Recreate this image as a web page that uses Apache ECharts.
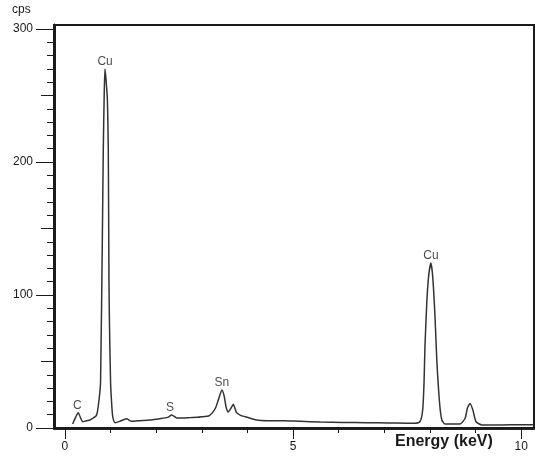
<!DOCTYPE html>
<html>
<head>
<meta charset="utf-8">
<script src="https://cdn.jsdelivr.net/npm/echarts@6/dist/echarts.min.js"></script>
<style>
    html, body { margin: 0; padding: 0; background: #fff; }
    #chart { width: 535px; height: 456px; }
</style>
</head>
<body>
<div id="chart"></div>
<script>
// spectrum: energy (keV) and counts (cps)
const energy = [0.17, 0.22, 0.29, 0.35, 0.39, 0.47, 0.55, 0.62, 0.68, 0.71, 0.75, 0.78, 0.82, 0.84, 0.86, 0.877, 0.90, 0.93, 0.95, 0.965, 0.975, 1.0, 1.03, 1.05, 1.1, 1.2, 1.35, 1.46, 1.6, 1.86, 2.08, 2.25, 2.34, 2.45, 2.6, 2.74, 2.9, 3.03, 3.15, 3.22, 3.3, 3.36, 3.44, 3.49, 3.53, 3.58, 3.64, 3.69, 3.76, 3.85, 3.95, 4.2, 4.45, 4.8, 5.15, 5.6, 6.1, 6.6, 7.1, 7.63, 7.78, 7.84, 7.87, 7.89, 7.93, 7.97, 8.02, 8.06, 8.11, 8.15, 8.21, 8.26, 8.33, 8.5, 8.66, 8.77, 8.82, 8.88, 8.94, 9.01, 9.14, 9.5, 10.0, 10.28];
const cps = [3, 7, 11.5, 7, 4.7, 5.5, 6, 7.5, 9, 12, 22, 34, 144, 209, 250, 270, 262, 247, 209, 109, 80, 34, 15, 8, 4, 5, 7, 5, 5.5, 6, 7, 8, 9.8, 7.5, 7.5, 7.8, 8, 8.5, 9, 11, 15, 21, 28.6, 24, 16, 12, 15, 17.8, 11.5, 9.5, 8.5, 6, 5.5, 5.5, 5, 4.5, 4.2, 4, 3.8, 3.5, 4.7, 13.5, 34, 61, 94, 114, 124, 114, 84, 51, 19, 6, 3, 3, 3, 7.3, 14.8, 18.5, 13.5, 4.7, 2.3, 2.2, 2.5, 2.5];

// peak labels
const peakNames = ["C", "Cu", "S", "Sn", "Cu"];
const peakEnergy = [0.27, 0.88, 2.3, 3.44, 8.02];
const peakCps = [11.5, 270, 9.8, 28.6, 124];

// ticks
const xMajor = [0, 5, 10];
const xMinor = [1, 2, 3, 4, 6, 7, 8, 9];
const yMajor = [0, 100, 200, 300];
const yMid = [50, 150, 250];
const yMinor = [10, 20, 30, 40, 60, 70, 80, 90, 110, 120, 130, 140, 160, 170, 180, 190, 210, 220, 230, 240, 260, 270, 280, 290];

const FONT = "Liberation Sans";
const INK = "#1a1a1a";

const chart = echarts.init(document.getElementById("chart"));

function yAx(ticks, len, labels) {
    return {
        type: "value",
        position: "left",
        offset: 0,
        min: 0,
        max: 303,
        splitLine: { show: false },
        axisLine: { show: true, onZero: false, lineStyle: { color: INK, width: 2.5 } },
        axisTick: { show: true, customValues: ticks, length: len, lineStyle: { color: INK, width: 1 } },
        axisLabel: labels
            ? { show: true, customValues: ticks, margin: 21, fontSize: 12, color: INK, fontFamily: FONT }
            : { show: false },
    };
}
function xAx(ticks, len, labels) {
    return {
        type: "value",
        position: "bottom",
        offset: 0,
        min: -0.24,
        max: 10.28,
        splitLine: { show: false },
        axisLine: { show: true, onZero: false, lineStyle: { color: INK, width: 2.5 } },
        axisTick: { show: true, customValues: ticks, length: len, lineStyle: { color: INK, width: 1 } },
        axisLabel: labels
            ? { show: true, customValues: ticks, margin: 13, fontSize: 12, color: INK, fontFamily: FONT }
            : { show: false },
    };
}

const option = {
    animation: false,
    backgroundColor: "#fff",
    grid: {
        left: 54,
        right: 1,
        top: 25,
        bottom: 28,
        show: true,
        borderColor: INK,
        borderWidth: 2,
    },
    xAxis: [xAx(xMajor, 11, true), xAx(xMinor, 5, false)],
    yAxis: [yAx(yMajor, 18, true), yAx(yMid, 13, false), yAx(yMinor, 7, false)],
    graphic: [
        {
            type: "text",
            left: 12,
            top: 4,
            style: { text: "cps", fontSize: 12, fill: INK, fontFamily: FONT },
        },
        {
            type: "text",
            left: 395,
            top: 434,
            style: { text: "Energy (keV)", fontSize: 16, fontWeight: "bold", fill: INK, fontFamily: FONT },
        },
    ],
    series: [
        {
            type: "line",
            data: energy.map((e, i) => [e, cps[i]]),
            showSymbol: false,
            smooth: 0.2,
            lineStyle: { color: "#333", width: 1.5 },
        },
        {
            type: "scatter",
            data: peakEnergy.map((e, i) => ({ value: [e, peakCps[i]], name: peakNames[i] })),
            symbolSize: 0,
            label: {
                show: true,
                position: "top",
                distance: 1,
                formatter: (p) => p.name,
                fontSize: 12,
                color: INK,
                fontFamily: FONT,
            },
        },
    ],
};
chart.setOption(option);
</script>
</body>
</html>
